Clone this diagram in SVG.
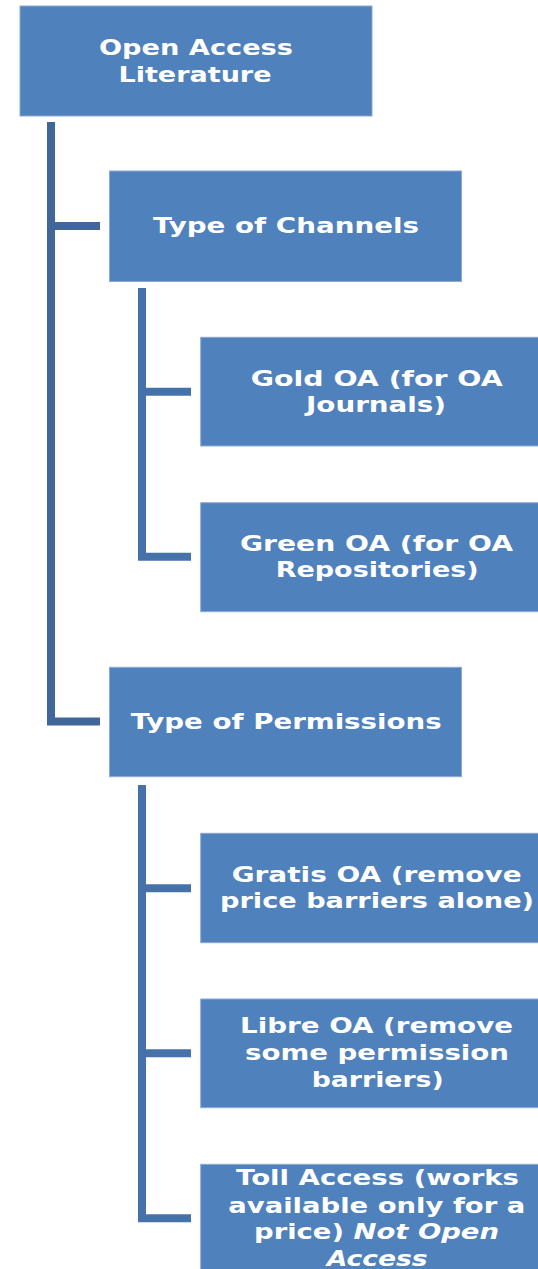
<svg xmlns="http://www.w3.org/2000/svg" width="538" height="1269" viewBox="0 0 538 1269">
<style>
.box{fill:#4f81bd;stroke:#8eaad3;stroke-width:1}
.t{font-family:"DejaVu Sans","Liberation Sans",sans-serif;font-weight:bold;font-size:21px;fill:#ffffff;text-anchor:start}
.it{font-style:italic}
.main{stroke:#40669a;stroke-width:8;fill:none;stroke-linecap:butt}
.sub{stroke:#4672aa;stroke-width:8;fill:none;stroke-linecap:butt}
</style>
<rect width="538" height="1269" fill="#ffffff"/>
<g id="connectors">
<path class="main" d="M51 122 V721.5 H100 M51 226 H100"/>
<path class="sub" d="M142 288 V556.7 H191 M142 391.7 H191"/>
<path class="sub" d="M142 785 V1218.3 H191 M142 888.3 H191 M142 1053.3 H191"/>
</g>
<g id="root">
<rect class="box" x="20" y="6" width="352" height="110"/>
<text class="t" x="99" y="54.5" textLength="194" lengthAdjust="spacingAndGlyphs">Open Access</text>
<text class="t" x="118.5" y="81.7" textLength="153" lengthAdjust="spacingAndGlyphs">Literature</text>
</g>
<g id="channels">
<rect class="box" x="109.5" y="171" width="352" height="110.5"/>
<text class="t" x="153" y="232.7" textLength="266" lengthAdjust="spacingAndGlyphs">Type of Channels</text>
</g>
<g id="gold">
<rect class="box" x="200.7" y="337.3" width="345" height="108.7"/>
<text class="t" x="250.7" y="386" textLength="252" lengthAdjust="spacingAndGlyphs">Gold OA (for OA</text>
<text class="t" x="306" y="412.3" textLength="140" lengthAdjust="spacingAndGlyphs">Journals)</text>
</g>
<g id="green">
<rect class="box" x="200.7" y="502.7" width="345" height="109"/>
<text class="t" x="240" y="550.7" textLength="273" lengthAdjust="spacingAndGlyphs">Green OA (for OA</text>
<text class="t" x="275.7" y="577" textLength="203" lengthAdjust="spacingAndGlyphs">Repositories)</text>
</g>
<g id="permissions">
<rect class="box" x="109.5" y="667.3" width="352" height="109.4"/>
<text class="t" x="130.7" y="729.3" textLength="311" lengthAdjust="spacingAndGlyphs">Type of Permissions</text>
</g>
<g id="gratis">
<rect class="box" x="200.7" y="833.3" width="345" height="109.4"/>
<text class="t" x="231.7" y="881.7" textLength="290" lengthAdjust="spacingAndGlyphs">Gratis OA (remove</text>
<text class="t" x="220" y="908.3" textLength="314" lengthAdjust="spacingAndGlyphs">price barriers alone)</text>
</g>
<g id="libre">
<rect class="box" x="200.7" y="999" width="345" height="108.7"/>
<text class="t" x="240" y="1033.3" textLength="273" lengthAdjust="spacingAndGlyphs">Libre OA (remove</text>
<text class="t" x="245" y="1060" textLength="264" lengthAdjust="spacingAndGlyphs">some permission</text>
<text class="t" x="311.7" y="1086.7" textLength="132" lengthAdjust="spacingAndGlyphs">barriers)</text>
</g>
<g id="toll">
<rect class="box" x="200.7" y="1164.3" width="345" height="120"/>
<text class="t" x="236" y="1185" textLength="283" lengthAdjust="spacingAndGlyphs">Toll Access (works</text>
<text class="t" x="228.3" y="1212.7" textLength="297" lengthAdjust="spacingAndGlyphs">available only for a</text>
<text class="t" x="254" y="1239.3" textLength="245" lengthAdjust="spacingAndGlyphs">price) <tspan class="it">Not Open</tspan></text>
<text class="t it" x="326.7" y="1266" textLength="101" lengthAdjust="spacingAndGlyphs">Access</text>
</g>
</svg>
